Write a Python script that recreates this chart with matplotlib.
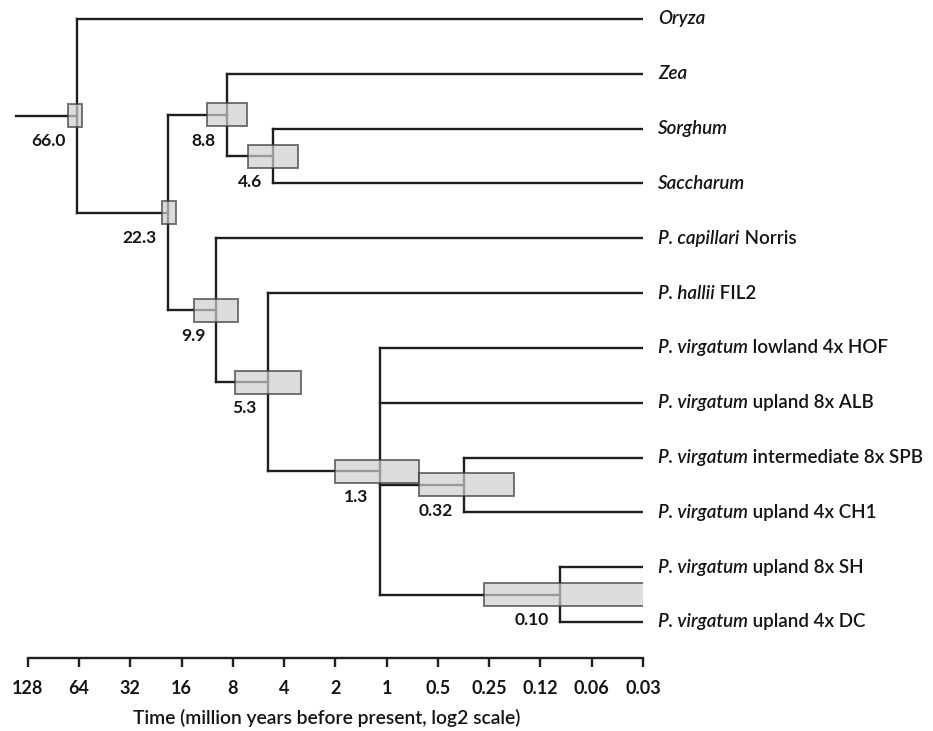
import matplotlib
matplotlib.use('Agg')
import matplotlib.pyplot as plt
from matplotlib.patches import Rectangle

plt.rcParams['font.family'] = ['Lato', 'DejaVu Sans']

# tips, top to bottom: (italic part, plain part)
tip_names = [('Oryza', ''), ('Zea', ''), ('Sorghum', ''), ('Saccharum', ''),
             ('P. capillari', ' Norris'), ('P. hallii', ' FIL2'),
             ('P. virgatum', ' lowland 4x HOF'), ('P. virgatum', ' upland 8x ALB'),
             ('P. virgatum', ' intermediate 8x SPB'), ('P. virgatum', ' upland 4x CH1'),
             ('P. virgatum', ' upland 8x SH'), ('P. virgatum', ' upland 4x DC')]
tip_age = 0.03125
root_start = 150

# internal nodes: children are tip indices (int) or node keys (str)
node_children = {
    'n66': [0, 'n22'],
    'n22': ['n88', 'n99'],
    'n88': [1, 'n46'],
    'n46': [2, 3],
    'n99': [4, 'n53'],
    'n53': [5, 'n13'],
    'n13': [6, 7, 'n032', 'n010'],
    'n032': [8, 9],
    'n010': [10, 11],
}
# node position on the time axis as drawn, its label and its interval
node_age = {'n66': 66, 'n22': 19.3, 'n88': 8.7, 'n46': 4.65, 'n99': 10.0,
            'n53': 5.0, 'n13': 1.1, 'n032': 0.35, 'n010': 0.096}
node_label = {'n66': '66.0', 'n22': '22.3', 'n88': '8.8', 'n46': '4.6', 'n99': '9.9',
              'n53': '5.3', 'n13': '1.3', 'n032': '0.32', 'n010': '0.10'}
node_hi = {'n66': 74.5, 'n22': 20.9, 'n88': 11.4, 'n46': 6.5, 'n99': 13.6,
           'n53': 7.8, 'n13': 2.0, 'n032': 0.65, 'n010': 0.27}
node_lo = {'n66': 61.7, 'n22': 17.3, 'n88': 6.6, 'n46': 3.3, 'n99': 7.5,
           'n53': 3.2, 'n13': 0.65, 'n032': 0.18, 'n010': 0.031}

tick_vals = [128, 64, 32, 16, 8, 4, 2, 1, 0.5, 0.25, 0.125, 0.0625, 0.03125]
tick_labels = ['128', '64', '32', '16', '8', '4', '2', '1', '0.5', '0.25', '0.12', '0.06', '0.03']

line_color = '#1e1e1e'
lw = 1.7
txt_color = '#151515'

fig = plt.figure(figsize=(9.33, 7.31), dpi=100)
ax = fig.add_axes([10 / 933, (731 - 658) / 731, 633 / 933, 653 / 731])
ax.set_xscale('log', base=2)
ax.set_xlim(163, 0.03125)
ax.set_ylim(11.657, -0.255)


def pos(key):
    if isinstance(key, int):
        return tip_age, key
    ys = [pos(c)[1] for c in node_children[key]]
    return node_age[key], (min(ys) + max(ys)) / 2


# branches
for key, kids in node_children.items():
    x, y = pos(key)
    ys = [pos(c)[1] for c in kids]
    ax.plot([x, x], [min(ys), max(ys)], color=line_color, lw=lw, solid_capstyle='projecting')
    for c in kids:
        cx, cy = pos(c)
        ax.plot([x, cx], [cy, cy], color=line_color, lw=lw, solid_capstyle='projecting')

rx, ry = pos('n66')
ax.plot([root_start, rx], [ry, ry], color=line_color, lw=lw)

# node intervals and labels
box_h = 0.42
for key in node_children:
    x, y = pos(key)
    ax.add_patch(Rectangle((node_hi[key], y - box_h / 2), node_lo[key] - node_hi[key], box_h,
                           facecolor='#cfcfcf', edgecolor='#3c3c3c', lw=1.4, alpha=0.7, zorder=3))
    ax.annotate(node_label[key], xy=(x, y), xytext=(-8, -18.5), textcoords='offset points',
                ha='right', va='center', fontsize=12.5, color=txt_color, fontweight='bold')

# tip labels
for i, (it, rest) in enumerate(tip_names):
    t1 = ax.annotate(it, xy=(tip_age, i), xytext=(11, 0), textcoords='offset points',
                     ha='left', va='center', fontsize=13.5, style='italic', color=txt_color,
                     fontweight='semibold', annotation_clip=False)
    if rest:
        ax.annotate(rest, xy=(1, 0), xycoords=t1, ha='left', va='bottom',
                    fontsize=13.5, color=txt_color, fontweight='semibold', annotation_clip=False)

# axis
for s in ['left', 'right', 'top']:
    ax.spines[s].set_visible(False)
ax.spines['bottom'].set_bounds(128, 0.03125)
ax.spines['bottom'].set_linewidth(lw)
ax.spines['bottom'].set_color(line_color)
ax.set_xticks(tick_vals)
ax.set_xticklabels(tick_labels, fontweight='bold')
ax.xaxis.set_minor_locator(matplotlib.ticker.NullLocator())
ax.tick_params(axis='x', length=6.5, width=lw, color=line_color, pad=9, labelsize=13,
               labelcolor=txt_color)
ax.set_yticks([])
ax.set_xlabel('Time (million years before present, log2 scale)', fontsize=13.9, labelpad=9,
              color=txt_color, fontweight='semibold')

fig.savefig('out.png', dpi=100)
